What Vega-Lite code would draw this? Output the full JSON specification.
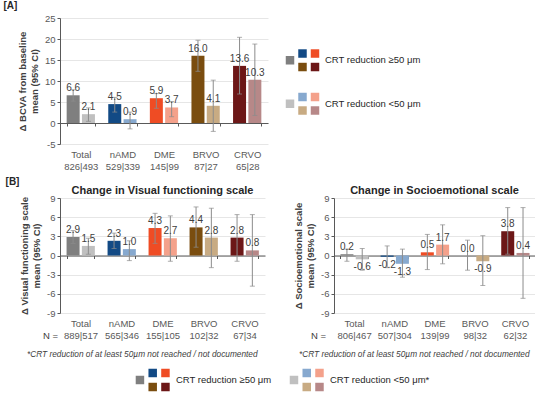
{
  "$schema": "https://vega.github.io/schema/vega-lite/v6.json",
  "background": "white",
  "padding": {"left": 3, "top": 1, "right": 0, "bottom": 0},
  "config": {
    "font": "Liberation Sans",
    "view": {"stroke": null},
    "axis": {"labelFont": "Liberation Sans", "labelFontSize": 9.5, "labelColor": "#595959", "domainColor": "#595959", "tickColor": "#595959", "tickSize": 3, "titleFont": "Liberation Sans"},
    "axisY": {"grid": true, "gridColor": "#e6e6e6", "labelPadding": 2, "labelOverlap": false, "titleFontSize": 9.5, "titleFontWeight": "bold", "titleColor": "#404040", "titlePadding": 5, "titleLineHeight": 12},
    "axisX": {"grid": false},
    "title": {"font": "Liberation Sans"}
  },
  "datasets": {
    "bcva": [
      {"g": "Total", "n": "826|493", "lvl": "≥50", "m": 6.6, "lo": 5.2, "hi": 7.9},
      {"g": "Total", "n": "826|493", "lvl": "<50", "m": 2.1, "lo": 0.4, "hi": 3.6},
      {"g": "nAMD", "n": "529|339", "lvl": "≥50", "m": 4.5, "lo": 2.6, "hi": 6.1},
      {"g": "nAMD", "n": "529|339", "lvl": "<50", "m": 0.9, "lo": -1.4, "hi": 2.6},
      {"g": "DME", "n": "145|99", "lvl": "≥50", "m": 5.9, "lo": 3.5, "hi": 7.0},
      {"g": "DME", "n": "145|99", "lvl": "<50", "m": 3.7, "lo": 1.5, "hi": 5.1},
      {"g": "BRVO", "n": "87|27", "lvl": "≥50", "m": 16.0, "lo": 12.3, "hi": 19.7},
      {"g": "BRVO", "n": "87|27", "lvl": "<50", "m": 4.1, "lo": -2.0, "hi": 10.2},
      {"g": "CRVO", "n": "65|28", "lvl": "≥50", "m": 13.6, "lo": 6.9, "hi": 20.4},
      {"g": "CRVO", "n": "65|28", "lvl": "<50", "m": 10.3, "lo": 1.8, "hi": 18.8}
    ],
    "vf": [
      {"g": "Total", "n": "889|517", "lvl": "≥50", "m": 2.9, "lo": 1.9, "hi": 3.9},
      {"g": "Total", "n": "889|517", "lvl": "<50", "m": 1.5, "lo": 0.2, "hi": 2.7},
      {"g": "nAMD", "n": "565|346", "lvl": "≥50", "m": 2.3, "lo": 1.1, "hi": 3.5},
      {"g": "nAMD", "n": "565|346", "lvl": "<50", "m": 1.0, "lo": -0.8, "hi": 2.3},
      {"g": "DME", "n": "155|105", "lvl": "≥50", "m": 4.3, "lo": 1.9, "hi": 6.6},
      {"g": "DME", "n": "155|105", "lvl": "<50", "m": 2.7, "lo": -0.9, "hi": 6.2},
      {"g": "BRVO", "n": "102|32", "lvl": "≥50", "m": 4.4, "lo": 1.3, "hi": 7.6},
      {"g": "BRVO", "n": "102|32", "lvl": "<50", "m": 2.8, "lo": -1.9, "hi": 7.4},
      {"g": "CRVO", "n": "67|34", "lvl": "≥50", "m": 2.8, "lo": -0.9, "hi": 6.4},
      {"g": "CRVO", "n": "67|34", "lvl": "<50", "m": 0.8, "lo": -4.8, "hi": 6.4}
    ],
    "se": [
      {"g": "Total", "n": "806|467", "lvl": "≥50", "m": 0.2, "lo": -0.9, "hi": 1.0},
      {"g": "Total", "n": "806|467", "lvl": "<50", "m": -0.6, "lo": -2.3, "hi": 1.1},
      {"g": "nAMD", "n": "507|304", "lvl": "≥50", "m": -0.2, "lo": -1.9, "hi": 1.5},
      {"g": "nAMD", "n": "507|304", "lvl": "<50", "m": -1.3, "lo": -3.4, "hi": 1.0},
      {"g": "DME", "n": "139|99", "lvl": "≥50", "m": 0.5, "lo": -2.2, "hi": 3.3},
      {"g": "DME", "n": "139|99", "lvl": "<50", "m": 1.7, "lo": -1.3, "hi": 4.8},
      {"g": "BRVO", "n": "98|32", "lvl": "≥50", "m": 0.0, "lo": -2.3, "hi": 2.4},
      {"g": "BRVO", "n": "98|32", "lvl": "<50", "m": -0.9, "lo": -4.7, "hi": 3.1},
      {"g": "CRVO", "n": "62|32", "lvl": "≥50", "m": 3.8, "lo": 0.2, "hi": 7.5},
      {"g": "CRVO", "n": "62|32", "lvl": "<50", "m": 0.4, "lo": -6.7, "hi": 7.5}
    ],
    "legend": [
      {"g": "Total", "lvl": "≥50"}, {"g": "nAMD", "lvl": "≥50"}, {"g": "DME", "lvl": "≥50"}, {"g": "BRVO", "lvl": "≥50"}, {"g": "CRVO", "lvl": "≥50"},
      {"g": "Total", "lvl": "<50"}, {"g": "nAMD", "lvl": "<50"}, {"g": "DME", "lvl": "<50"}, {"g": "BRVO", "lvl": "<50"}, {"g": "CRVO", "lvl": "<50"}
    ]
  },
  "spacing": 6,
  "vconcat": [
    {
      "title": {"text": "[A]", "anchor": "start", "fontSize": 10, "fontWeight": "bold", "color": "#262626", "dx": -14, "offset": 2},
      "spacing": 7,
      "hconcat": [
        {
          "width": 208, "height": 126,
          "data": {"name": "bcva"},
          "transform": [
            {"calculate": "datum.g + ';' + datum.n", "as": "cat"},
            {"calculate": "datum.g + datum.lvl", "as": "k"},
            {"calculate": "replace(format(datum.m, '.1f'), '\u2212', '-')", "as": "lab"}
          ],
          "encoding": {
            "x": {"field": "cat", "type": "nominal", "sort": null, "scale": {"paddingInner": 0.32, "paddingOuter": 0.16},
              "axis": {"title": null, "offset": -21, "tickBand": "extent", "labelPadding": 23, "labelAngle": 0, "labelExpr": "isValid(datum.value) ? split(datum.value, ';') : ''", "labelLineHeight": 12, "labelOverlap": false, "labelBound": false}},
            "xOffset": {"field": "lvl", "type": "nominal", "sort": ["≥50", "<50"], "scale": {"paddingInner": 0.15}}
          },
          "layer": [
            {"mark": {"type": "bar"},
             "encoding": {
               "y": {"field": "m", "type": "quantitative", "scale": {"domain": [-5, 25], "nice": false}, "axis": {"title": ["Δ BCVA from baseline", "mean (95% CI)"], "values": [-5, 0, 5, 10, 15, 20, 25], "tickCount": 20, "labelExpr": "replace(datum.label, '\u2212', '-')"}},
               "color": {"field": "k", "type": "nominal", "legend": null, "scale": {"domain": ["Total≥50", "Total<50", "nAMD≥50", "nAMD<50", "DME≥50", "DME<50", "BRVO≥50", "BRVO<50", "CRVO≥50", "CRVO<50"], "range": ["#7f7f7f", "#c0c0c0", "#124a85", "#87a9cf", "#ef4c24", "#f4a18b", "#7a4d0f", "#c8ab83", "#6c1717", "#b78888"]}}
             }},
            {"mark": {"type": "rule", "color": "#8c8c8c", "strokeWidth": 1}, "encoding": {"y": {"field": "lo", "type": "quantitative"}, "y2": {"field": "hi"}}},
            {"mark": {"type": "tick", "color": "#8c8c8c", "thickness": 1, "size": 5}, "encoding": {"y": {"field": "lo", "type": "quantitative"}}},
            {"mark": {"type": "tick", "color": "#8c8c8c", "thickness": 1, "size": 5}, "encoding": {"y": {"field": "hi", "type": "quantitative"}}},
            {"transform": [{"filter": "datum.m >= 0"}], "mark": {"type": "text", "baseline": "bottom", "dy": -2, "fontSize": 10, "color": "#404040"}, "encoding": {"y": {"field": "m", "type": "quantitative"}, "text": {"field": "lab"}}},
            {"transform": [{"filter": "datum.m < 0"}], "mark": {"type": "text", "baseline": "top", "dy": 3, "fontSize": 10, "color": "#404040"}, "encoding": {"y": {"field": "m", "type": "quantitative"}, "text": {"field": "lab"}}}
          ]
        },
        {
          "width": 150, "height": 126,
          "data": {"name": "legend"},
          "transform": [
            {"calculate": "indexof(['Total','nAMD','DME','BRVO','CRVO'], datum.g)", "as": "i"},
            {"calculate": "datum.i == 0 ? 0 : (datum.i % 2 == 1 ? 1 : 2)", "as": "col"},
            {"calculate": "(datum.i == 0 ? 0.5 : (datum.i <= 2 ? 0 : 1)) + (datum.lvl == '≥50' ? 0 : 3.22)", "as": "row"},
            {"calculate": "datum.g + datum.lvl", "as": "k"},
            {"calculate": "'CRT reduction ' + datum.lvl + ' μm'", "as": "lbl"}
          ],
          "encoding": {
            "y": {"field": "row", "type": "quantitative", "scale": {"domain": [-2.63, 6.7], "reverse": true, "nice": false, "zero": false}, "axis": null}
          },
          "layer": [
            {"mark": {"type": "point", "shape": "square", "filled": true, "size": 72, "opacity": 1},
             "encoding": {
               "x": {"field": "col", "type": "quantitative", "scale": {"domain": [-1.2, 10.8], "nice": false, "zero": false}, "axis": null},
               "color": {"field": "k", "type": "nominal", "legend": null, "scale": {"domain": ["Total≥50", "Total<50", "nAMD≥50", "nAMD<50", "DME≥50", "DME<50", "BRVO≥50", "BRVO<50", "CRVO≥50", "CRVO<50"], "range": ["#7f7f7f", "#c0c0c0", "#124a85", "#87a9cf", "#ef4c24", "#f4a18b", "#7a4d0f", "#c8ab83", "#6c1717", "#b78888"]}}
             }},
            {"transform": [{"filter": "datum.i == 0"}],
             "mark": {"type": "text", "align": "left", "baseline": "middle", "fontSize": 9.5, "color": "#262626"},
             "encoding": {"x": {"datum": 2.8, "type": "quantitative"}, "text": {"field": "lbl"}}}
          ]
        }
      ]
    },
    {
      "title": {"text": "[B]", "anchor": "start", "fontSize": 10, "fontWeight": "bold", "color": "#262626", "dx": -14, "offset": -2},
      "spacing": 28,
      "hconcat": [
        {
          "title": {"text": "*CRT reduction of at least 50µm not reached / not documented", "orient": "bottom", "anchor": "middle", "fontSize": 8.3, "fontStyle": "italic", "fontWeight": "normal", "color": "#404040", "offset": 10},
          "vconcat": [
            {
              "title": {"text": "Change in Visual functioning scale", "fontSize": 11, "fontWeight": "bold", "color": "#262626", "frame": "group", "anchor": "middle", "offset": -3},
              "width": 205, "height": 115,
              "data": {"name": "vf"},
              "transform": [
                {"calculate": "datum.g + ';' + datum.n", "as": "cat"},
                {"calculate": "datum.g + datum.lvl", "as": "k"},
                {"calculate": "replace(format(datum.m, '.1f'), '\u2212', '-')", "as": "lab"}
              ],
              "encoding": {
                "x": {"field": "cat", "type": "nominal", "sort": null, "scale": {"paddingInner": 0.32, "paddingOuter": 0.16},
                  "axis": {"title": "N =", "titleX": -10, "titleY": 80, "titleAlign": "center", "titleBaseline": "middle", "titleFontSize": 9.5, "titleFontWeight": "normal", "titleColor": "#404040", "offset": -57.5, "tickBand": "extent", "labelPadding": 60, "labelAngle": 0, "labelExpr": "isValid(datum.value) ? split(datum.value, ';') : ''", "labelLineHeight": 12, "labelOverlap": false, "labelBound": false}},
                "xOffset": {"field": "lvl", "type": "nominal", "sort": ["≥50", "<50"], "scale": {"paddingInner": 0.15}}
              },
              "layer": [
                {"mark": {"type": "bar"},
                 "encoding": {
                   "y": {"field": "m", "type": "quantitative", "scale": {"domain": [-9, 9], "nice": false}, "axis": {"title": ["Δ Visual functioning scale", "mean (95% CI)"], "values": [-9, -6, -3, 0, 3, 6, 9], "tickCount": 20, "labelExpr": "replace(datum.label, '\u2212', '-')"}},
                   "color": {"field": "k", "type": "nominal", "legend": null, "scale": {"domain": ["Total≥50", "Total<50", "nAMD≥50", "nAMD<50", "DME≥50", "DME<50", "BRVO≥50", "BRVO<50", "CRVO≥50", "CRVO<50"], "range": ["#7f7f7f", "#c0c0c0", "#124a85", "#87a9cf", "#ef4c24", "#f4a18b", "#7a4d0f", "#c8ab83", "#6c1717", "#b78888"]}}
                 }},
                {"mark": {"type": "rule", "color": "#8c8c8c", "strokeWidth": 1}, "encoding": {"y": {"field": "lo", "type": "quantitative"}, "y2": {"field": "hi"}}},
                {"mark": {"type": "tick", "color": "#8c8c8c", "thickness": 1, "size": 5}, "encoding": {"y": {"field": "lo", "type": "quantitative"}}},
                {"mark": {"type": "tick", "color": "#8c8c8c", "thickness": 1, "size": 5}, "encoding": {"y": {"field": "hi", "type": "quantitative"}}},
                {"transform": [{"filter": "datum.m >= 0"}], "mark": {"type": "text", "baseline": "bottom", "dy": -2, "fontSize": 10, "color": "#404040"}, "encoding": {"y": {"field": "m", "type": "quantitative"}, "text": {"field": "lab"}}},
                {"transform": [{"filter": "datum.m < 0"}], "mark": {"type": "text", "baseline": "top", "dy": 3, "fontSize": 10, "color": "#404040"}, "encoding": {"y": {"field": "m", "type": "quantitative"}, "text": {"field": "lab"}}}
              ]
            }
          ]
        },
        {
          "title": {"text": "*CRT reduction of at least 50µm not reached / not documented", "orient": "bottom", "anchor": "middle", "fontSize": 8.3, "fontStyle": "italic", "fontWeight": "normal", "color": "#404040", "offset": 10},
          "vconcat": [
            {
              "title": {"text": "Change in Socioemotional scale", "fontSize": 11, "fontWeight": "bold", "color": "#262626", "frame": "group", "anchor": "middle", "offset": -3},
              "width": 201, "height": 115,
              "data": {"name": "se"},
              "transform": [
                {"calculate": "datum.g + ';' + datum.n", "as": "cat"},
                {"calculate": "datum.g + datum.lvl", "as": "k"},
                {"calculate": "replace(format(datum.m, '.1f'), '\u2212', '-')", "as": "lab"}
              ],
              "encoding": {
                "x": {"field": "cat", "type": "nominal", "sort": null, "scale": {"paddingInner": 0.32, "paddingOuter": 0.16},
                  "axis": {"title": "N =", "titleX": -16, "titleY": 80, "titleAlign": "center", "titleBaseline": "middle", "titleFontSize": 9.5, "titleFontWeight": "normal", "titleColor": "#404040", "offset": -57.5, "tickBand": "extent", "labelPadding": 60, "labelAngle": 0, "labelExpr": "isValid(datum.value) ? split(datum.value, ';') : ''", "labelLineHeight": 12, "labelOverlap": false, "labelBound": false}},
                "xOffset": {"field": "lvl", "type": "nominal", "sort": ["≥50", "<50"], "scale": {"paddingInner": 0.15}}
              },
              "layer": [
                {"mark": {"type": "bar"},
                 "encoding": {
                   "y": {"field": "m", "type": "quantitative", "scale": {"domain": [-9, 9], "nice": false}, "axis": {"title": ["Δ Socioemotional scale", "mean (95% CI)"], "values": [-9, -6, -3, 0, 3, 6, 9], "tickCount": 20, "labelExpr": "replace(datum.label, '\u2212', '-')"}},
                   "color": {"field": "k", "type": "nominal", "legend": null, "scale": {"domain": ["Total≥50", "Total<50", "nAMD≥50", "nAMD<50", "DME≥50", "DME<50", "BRVO≥50", "BRVO<50", "CRVO≥50", "CRVO<50"], "range": ["#7f7f7f", "#c0c0c0", "#124a85", "#87a9cf", "#ef4c24", "#f4a18b", "#7a4d0f", "#c8ab83", "#6c1717", "#b78888"]}}
                 }},
                {"mark": {"type": "rule", "color": "#8c8c8c", "strokeWidth": 1}, "encoding": {"y": {"field": "lo", "type": "quantitative"}, "y2": {"field": "hi"}}},
                {"mark": {"type": "tick", "color": "#8c8c8c", "thickness": 1, "size": 5}, "encoding": {"y": {"field": "lo", "type": "quantitative"}}},
                {"mark": {"type": "tick", "color": "#8c8c8c", "thickness": 1, "size": 5}, "encoding": {"y": {"field": "hi", "type": "quantitative"}}},
                {"transform": [{"filter": "datum.m >= 0"}], "mark": {"type": "text", "baseline": "bottom", "dy": -2, "fontSize": 10, "color": "#404040"}, "encoding": {"y": {"field": "m", "type": "quantitative"}, "text": {"field": "lab"}}},
                {"transform": [{"filter": "datum.m < 0"}], "mark": {"type": "text", "baseline": "top", "dy": 3, "fontSize": 10, "color": "#404040"}, "encoding": {"y": {"field": "m", "type": "quantitative"}, "text": {"field": "lab"}}}
              ]
            }
          ]
        }
      ]
    },
    {
      "width": 400, "height": 30,
      "data": {"name": "legend"},
      "transform": [
        {"calculate": "indexof(['Total','nAMD','DME','BRVO','CRVO'], datum.g)", "as": "i"},
        {"calculate": "(datum.i == 0 ? 0 : (datum.i % 2 == 1 ? 1 : 2)) + (datum.lvl == '≥50' ? 0 : 12.08)", "as": "col"},
        {"calculate": "datum.i == 0 ? 0.5 : (datum.i <= 2 ? 0 : 1)", "as": "row"},
        {"calculate": "datum.g + datum.lvl", "as": "k"},
        {"calculate": "'CRT reduction ' + datum.lvl + ' μm' + (datum.lvl == '<50' ? '*' : '')", "as": "lbl"},
        {"calculate": "datum.col + 2.82", "as": "tx"}
      ],
      "encoding": {
        "y": {"field": "row", "type": "quantitative", "scale": {"domain": [-0.57, 1.57], "reverse": true, "nice": false, "zero": false}, "axis": null}
      },
      "layer": [
        {"mark": {"type": "point", "shape": "square", "filled": true, "size": 72, "opacity": 1},
         "encoding": {
           "x": {"field": "col", "type": "quantitative", "scale": {"domain": [-6.27, 25.1], "nice": false, "zero": false}, "axis": null},
           "color": {"field": "k", "type": "nominal", "legend": null, "scale": {"domain": ["Total≥50", "Total<50", "nAMD≥50", "nAMD<50", "DME≥50", "DME<50", "BRVO≥50", "BRVO<50", "CRVO≥50", "CRVO<50"], "range": ["#7f7f7f", "#c0c0c0", "#124a85", "#87a9cf", "#ef4c24", "#f4a18b", "#7a4d0f", "#c8ab83", "#6c1717", "#b78888"]}}
         }},
        {"transform": [{"filter": "datum.i == 0"}],
         "mark": {"type": "text", "align": "left", "baseline": "middle", "fontSize": 9.5, "color": "#262626"},
         "encoding": {"x": {"field": "tx", "type": "quantitative"}, "text": {"field": "lbl"}}}
      ]
    }
  ]
}
